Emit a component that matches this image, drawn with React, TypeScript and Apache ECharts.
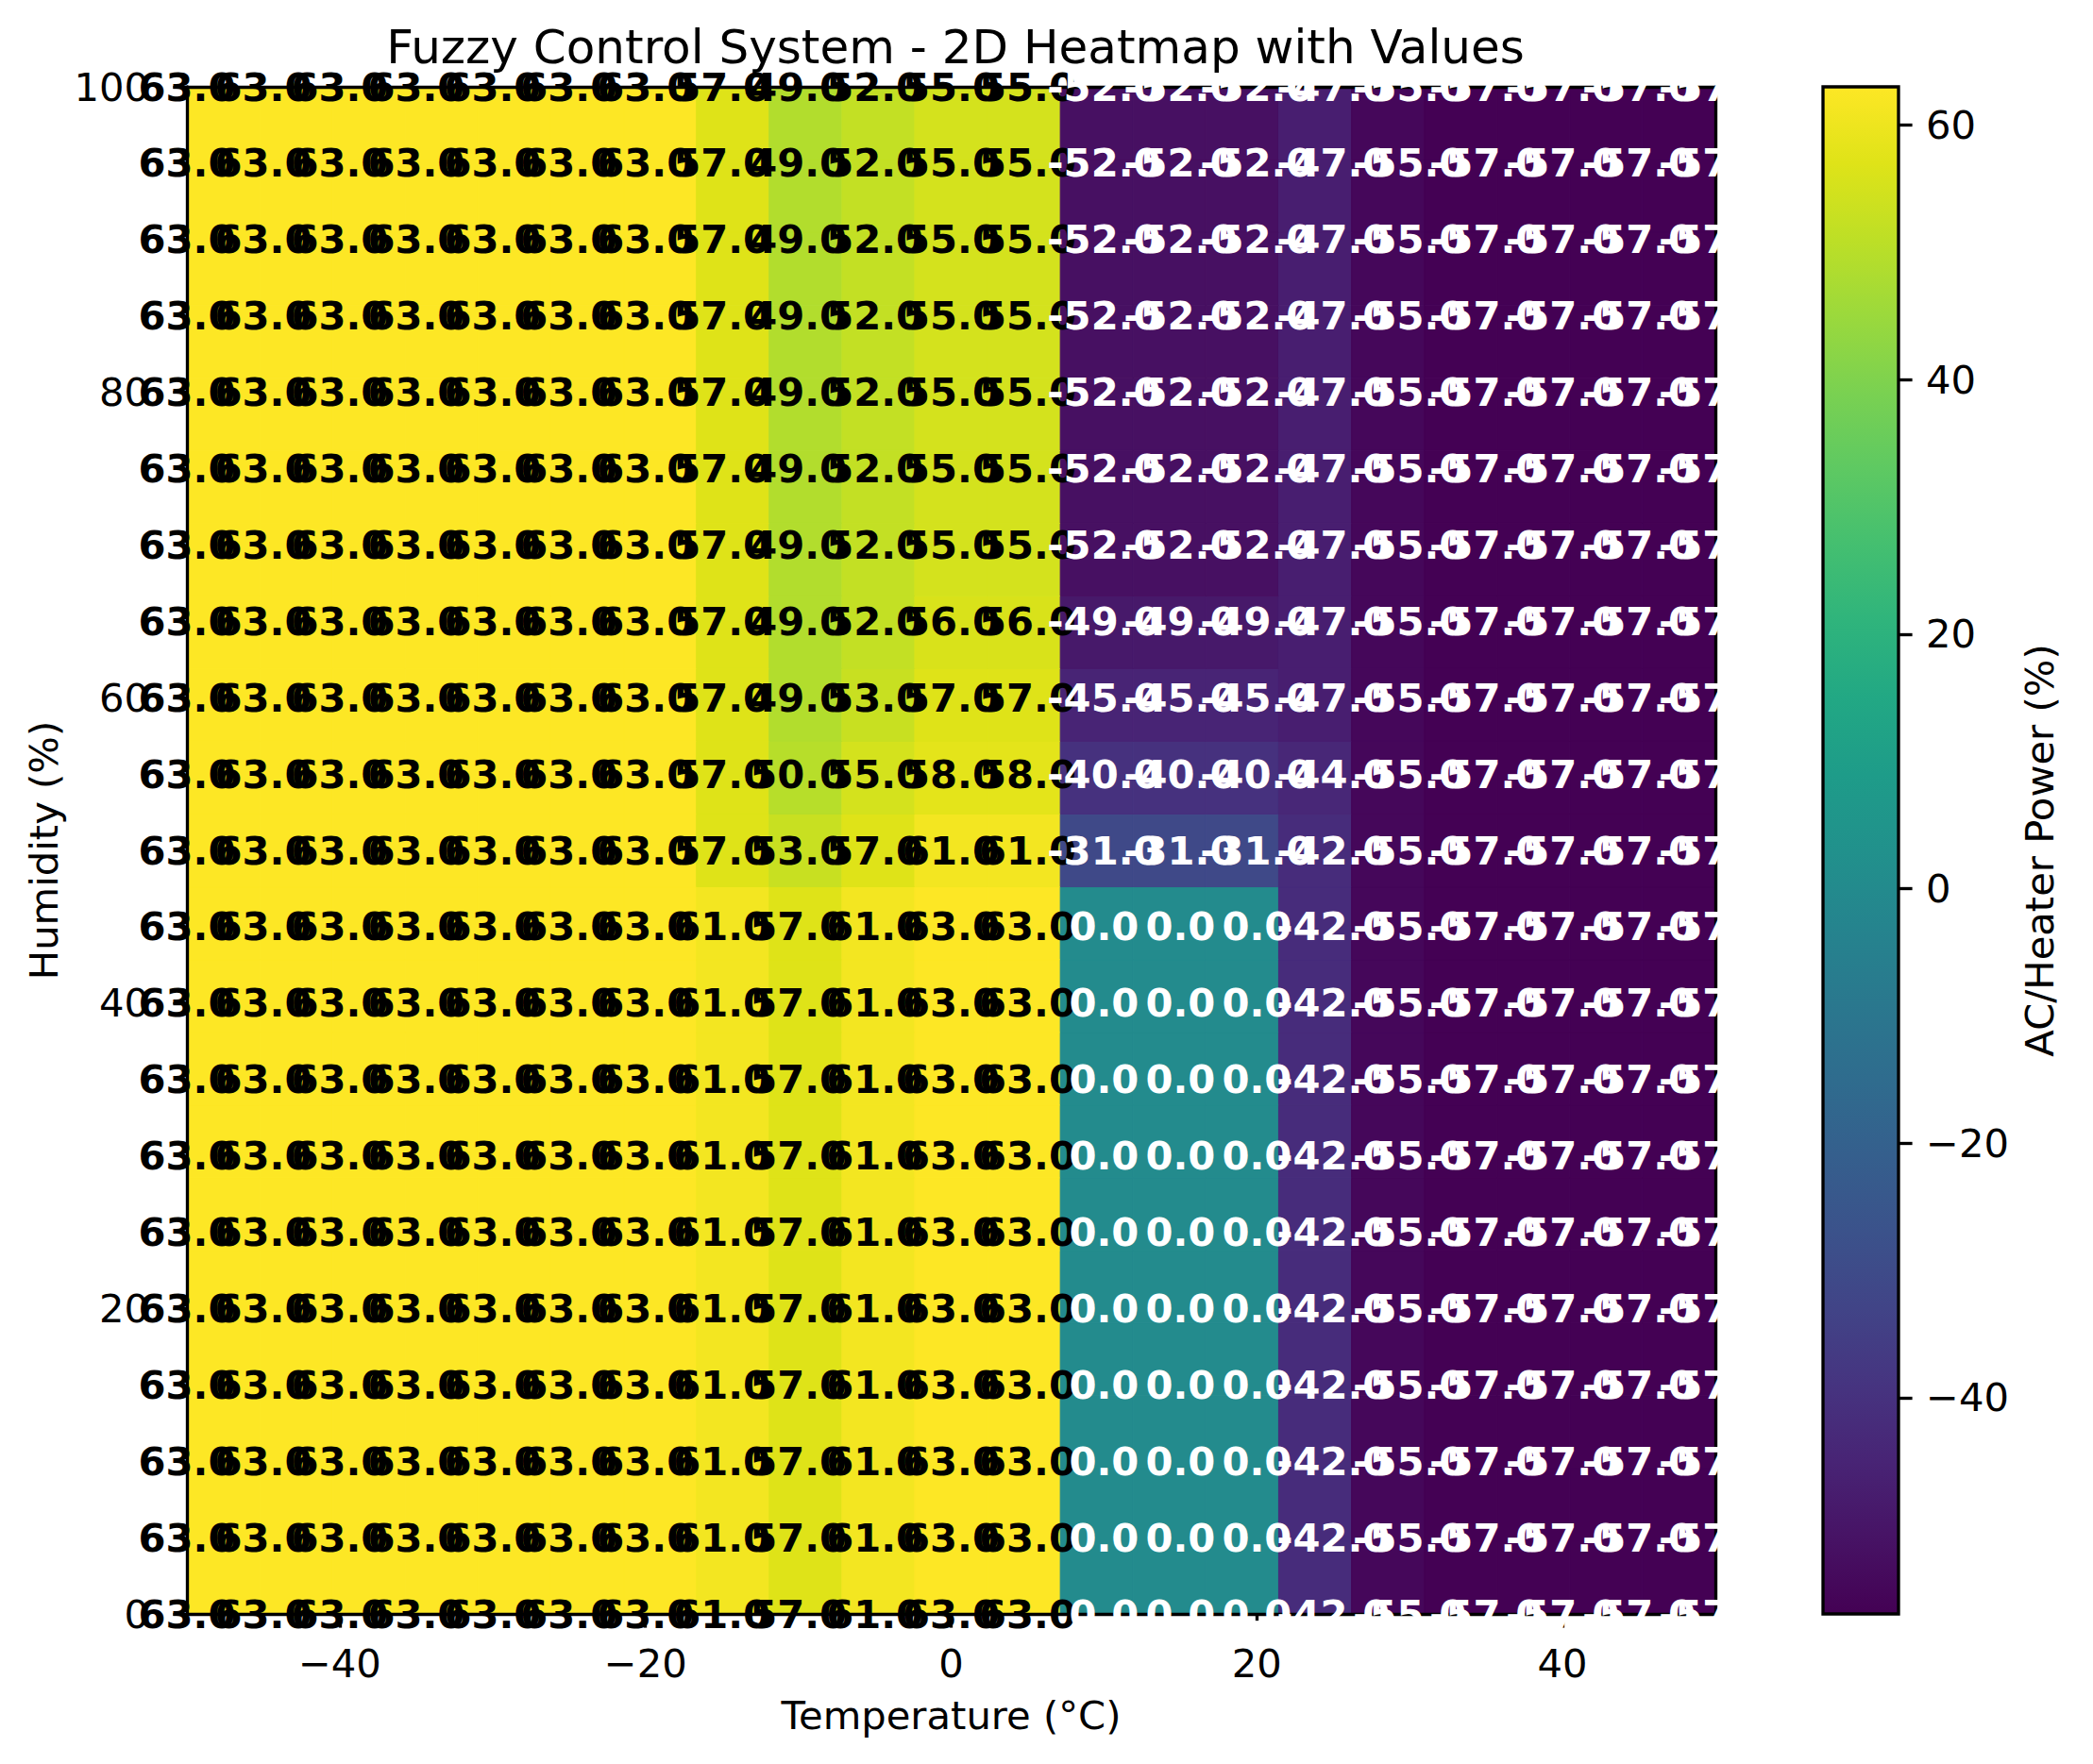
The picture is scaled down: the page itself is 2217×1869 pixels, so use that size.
import React, { useEffect, useRef } from 'react';
import * as echarts from 'echarts';

// Grid points (cell label positions)
const temperatures = [-50, -45, -40, -35, -30, -25, -20, -15, -10, -5, 0, 5, 10, 15, 20, 25, 30, 35, 40, 45, 50];
const humidities = [0, 5, 10, 15, 20, 25, 30, 35, 40, 45, 50, 55, 60, 65, 70, 75, 80, 85, 90, 95, 100];

// AC/Heater power rows, one per humidity level
const rowHum0to45 = [63, 63, 63, 63, 63, 63, 63, 61, 57, 61, 63, 63, 0, 0, 0, -42, -55, -57, -57, -57, -57];
const rowHum50 = [63, 63, 63, 63, 63, 63, 63, 57, 53, 57, 61, 61, -31, -31, -31, -42, -55, -57, -57, -57, -57];
const rowHum55 = [63, 63, 63, 63, 63, 63, 63, 57, 50, 55, 58, 58, -40, -40, -40, -44, -55, -57, -57, -57, -57];
const rowHum60 = [63, 63, 63, 63, 63, 63, 63, 57, 49, 53, 57, 57, -45, -45, -45, -47, -55, -57, -57, -57, -57];
const rowHum65 = [63, 63, 63, 63, 63, 63, 63, 57, 49, 52, 56, 56, -49, -49, -49, -47, -55, -57, -57, -57, -57];
const rowHum70to100 = [63, 63, 63, 63, 63, 63, 63, 57, 49, 52, 55, 55, -52, -52, -52, -47, -55, -57, -57, -57, -57];

const powerRows = [
  rowHum0to45, rowHum0to45, rowHum0to45, rowHum0to45, rowHum0to45,
  rowHum0to45, rowHum0to45, rowHum0to45, rowHum0to45, rowHum0to45,
  rowHum50, rowHum55, rowHum60, rowHum65,
  rowHum70to100, rowHum70to100, rowHum70to100, rowHum70to100,
  rowHum70to100, rowHum70to100, rowHum70to100,
];

const xTicks = [-40, -20, 0, 20, 40];
const yTicks = [0, 20, 40, 60, 80, 100];
const cbTicks = [-40, -20, 0, 20, 40, 60];

const X_MIN = -50, X_MAX = 50, Y_MIN = 0, Y_MAX = 100;

const VIRIDIS = [
  '#440154', '#471365', '#482475', '#463480', '#414487', '#3b528b', '#355f8d',
  '#2f6c8e', '#2a788e', '#25848e', '#21918c', '#1e9c89', '#22a884', '#2fb47c',
  '#44bf70', '#5ec962', '#7ad151', '#9bd93c', '#bddf26', '#dfe318', '#fde725',
];

const FONT = '"DejaVu Sans", "Liberation Sans", sans-serif';
const FS = 41.7;
const LW = 3.33;
const TICK = 14.6;

const fmtMinus = (v: number) => String(v).replace('-', '\u2212');

export default function App() {
  const ref = useRef<HTMLDivElement>(null);

  useEffect(() => {
    const chart = echarts.init(ref.current!, null, { renderer: 'svg' });
    const nCols = temperatures.length;
    const nRows = humidities.length;
    const cw = (X_MAX - X_MIN) / nCols;
    const chh = (Y_MAX - Y_MIN) / nRows;

    const cellData: number[][] = [];
    humidities.forEach((h, j) => {
      temperatures.forEach((t, i) => {
        cellData.push([t, h, powerRows[j][i], i, j]);
      });
    });
    const allVals = cellData.map((d) => d[2]);
    const vMin = Math.min(...allVals);
    const vMax = Math.max(...allVals);

    const option: any = {
      animation: false,
      backgroundColor: '#ffffff',
      textStyle: { fontFamily: FONT },
      title: {
        text: 'Fuzzy Control System - 2D Heatmap with Values',
        left: 1007,
        textAlign: 'center',
        top: 20,
        textStyle: { fontSize: 50, fontWeight: 'normal', color: '#000', fontFamily: FONT },
      },
      grid: [
        { left: 198, top: 92, width: 1619, height: 1618 },
        { left: 1931, top: 92, width: 80, height: 1618 },
      ],
      visualMap: {
        type: 'continuous',
        show: false,
        dimension: 2,
        seriesIndex: 0,
        min: vMin,
        max: vMax,
        inRange: { color: VIRIDIS },
      },
      xAxis: [
        {
          type: 'value', gridIndex: 0, min: X_MIN, max: X_MAX, position: 'bottom', z: 5,
          axisLine: { show: true, onZero: false, lineStyle: { color: '#000', width: LW } },
          axisTick: { show: true, length: TICK, customValues: xTicks, lineStyle: { color: '#000', width: LW } },
          axisLabel: { customValues: xTicks, fontSize: FS, color: '#000', margin: 31, formatter: fmtMinus, fontFamily: FONT },
          splitLine: { show: false },
          name: 'Temperature (°C)', nameLocation: 'middle', nameGap: 86,
          nameTextStyle: { fontSize: FS, color: '#000', fontFamily: FONT },
        },
        {
          type: 'value', gridIndex: 0, min: X_MIN, max: X_MAX, position: 'top', z: 5,
          axisLine: { show: true, onZero: false, lineStyle: { color: '#000', width: LW } },
          axisTick: { show: false }, axisLabel: { show: false }, splitLine: { show: false },
        },
        { type: 'value', gridIndex: 1, min: 0, max: 1, show: false },
      ],
      yAxis: [
        {
          type: 'value', gridIndex: 0, min: Y_MIN, max: Y_MAX, position: 'left', z: 5,
          axisLine: { show: true, onZero: false, lineStyle: { color: '#000', width: LW } },
          axisTick: { show: true, length: TICK, customValues: yTicks, lineStyle: { color: '#000', width: LW } },
          axisLabel: { customValues: yTicks, fontSize: FS, color: '#000', margin: 40, formatter: fmtMinus, fontFamily: FONT },
          splitLine: { show: false },
          name: 'Humidity (%)', nameLocation: 'middle', nameRotate: 90, nameGap: 125,
          nameTextStyle: { fontSize: FS, color: '#000', fontFamily: FONT },
        },
        {
          type: 'value', gridIndex: 0, min: Y_MIN, max: Y_MAX, position: 'right', z: 5,
          axisLine: { show: true, onZero: false, lineStyle: { color: '#000', width: LW } },
          axisTick: { show: false }, axisLabel: { show: false }, splitLine: { show: false },
        },
        {
          type: 'value', gridIndex: 1, min: vMin, max: vMax, position: 'right', z: 5,
          axisLine: { show: false, onZero: false },
          axisTick: { show: true, length: TICK, customValues: cbTicks, lineStyle: { color: '#000', width: LW } },
          axisLabel: { customValues: cbTicks, fontSize: FS, color: '#000', margin: 29, formatter: fmtMinus, fontFamily: FONT },
          splitLine: { show: false },
          name: 'AC/Heater Power (%)', nameLocation: 'middle', nameRotate: 90, nameGap: 128,
          nameTextStyle: { fontSize: FS, color: '#000', fontFamily: FONT },
        },
      ],
      series: [
        {
          type: 'custom',
          xAxisIndex: 0,
          yAxisIndex: 0,
          dimensions: ['temp', 'hum', 'power', 'col', 'row'],
          encode: { x: 0, y: 1 },
          data: cellData,
          z: 2,
          renderItem: (params: any, api: any) => {
            const i = api.value(3);
            const j = api.value(4);
            const p0 = api.coord([X_MIN + i * cw, Y_MIN + (j + 1) * chh]);
            const p1 = api.coord([X_MIN + (i + 1) * cw, Y_MIN + j * chh]);
            const c = api.visual('color');
            return {
              type: 'rect',
              shape: { x: p0[0], y: p0[1], width: p1[0] - p0[0], height: p1[1] - p0[1] },
              style: { fill: c, stroke: c, lineWidth: 1 },
            };
          },
        },
        {
          type: 'custom',
          xAxisIndex: 0,
          yAxisIndex: 0,
          dimensions: ['temp', 'hum', 'power', 'col', 'row'],
          encode: { x: 0, y: 1 },
          data: cellData,
          z: 10,
          clip: false,
          renderItem: (params: any, api: any) => {
            const p = api.coord([api.value(0), api.value(1)]);
            const v = api.value(2);
            const dark = (v - vMin) / (vMax - vMin) < 0.5;
            return {
              type: 'text',
              x: p[0],
              y: p[1],
              style: {
                text: v.toFixed(1),
                fill: dark ? '#ffffff' : '#000000',
                fontSize: FS,
                fontWeight: 'bold',
                fontFamily: FONT,
                align: 'center',
                verticalAlign: 'middle',
              },
            };
          },
        },
        {
          type: 'custom',
          xAxisIndex: 2,
          yAxisIndex: 2,
          encode: { x: 0, y: 1 },
          data: [[0, vMin]],
          z: 2,
          renderItem: (params: any, api: any) => {
            const p0 = api.coord([0, vMax]);
            const p1 = api.coord([1, vMin]);
            const shape = { x: p0[0], y: p0[1], width: p1[0] - p0[0], height: p1[1] - p0[1] };
            return {
              type: 'group',
              children: [
                {
                  type: 'rect',
                  shape,
                  style: {
                    fill: new echarts.graphic.LinearGradient(0, 1, 0, 0,
                      VIRIDIS.map((c, k) => ({ offset: k / (VIRIDIS.length - 1), color: c }))),
                  },
                },
                { type: 'rect', shape, style: { fill: 'none', stroke: '#000', lineWidth: LW } },
              ],
            };
          },
        },
      ],
    };

    chart.setOption(option);
    return () => chart.dispose();
  }, []);

  return (
    <div
      ref={ref}
      style={{ position: 'absolute', left: 0, top: 0, width: 2217, height: 1869, background: '#fff' }}
    />
  );
}
